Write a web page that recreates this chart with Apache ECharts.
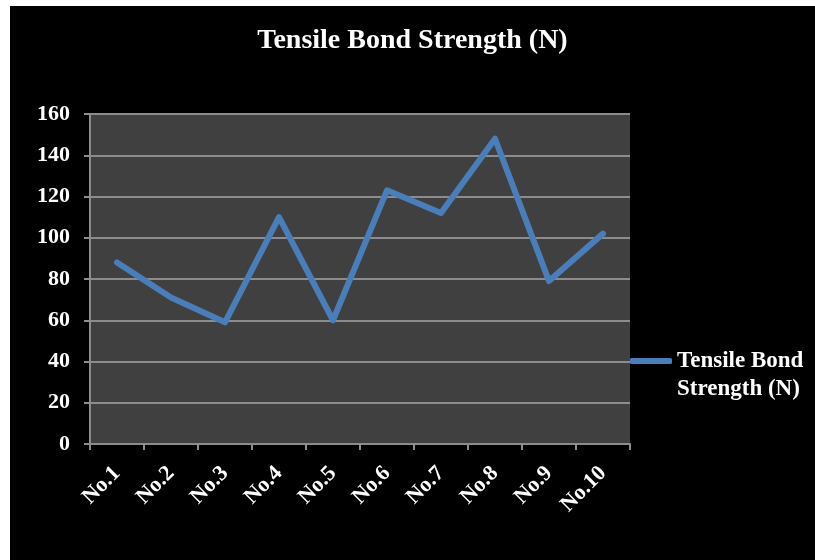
<!DOCTYPE html>
<html>
<head>
<meta charset="utf-8">
<script src="https://cdn.jsdelivr.net/npm/echarts@6/dist/echarts.min.js"></script>
<style>
  html, body { margin: 0; padding: 0; background: #ffffff; }
  #chart { position: absolute; left: 10px; top: 6px; width: 805px; height: 554px; background: #000000; }
</style>
</head>
<body>
<div id="chart"></div>
<script>
const categories = ['No.1', 'No.2', 'No.3', 'No.4', 'No.5', 'No.6', 'No.7', 'No.8', 'No.9', 'No.10'];
const strengthValues = [88, 71, 59, 110, 60, 123, 112, 148, 79, 102];
const seriesName = 'Tensile Bond Strength (N)';
const yTicks = { min: 0, max: 160, interval: 20 };

const serif = '"Liberation Serif", "Times New Roman", serif';
const chart = echarts.init(document.getElementById('chart'));

chart.setOption({
  backgroundColor: '#000000',
  animation: false,
  title: {
    text: seriesName,
    left: 'center',
    top: 16,
    textStyle: { color: '#ffffff', fontFamily: serif, fontWeight: 'bold', fontSize: 28 }
  },
  legend: {
    data: [seriesName],
    left: 620,
    top: 313,
    padding: 0,
    icon: 'roundRect',
    itemWidth: 42,
    itemHeight: 6,
    formatter: () => '\nTensile Bond\nStrength (N)',
    textStyle: { color: '#ffffff', fontFamily: serif, fontWeight: 'bold', fontSize: 23, lineHeight: 28 }
  },
  grid: {
    left: 80, top: 108, right: 185, bottom: 116,
    show: true, backgroundColor: '#404040', borderWidth: 0
  },
  xAxis: {
    type: 'category',
    data: categories,
    boundaryGap: true,
    axisLine: { lineStyle: { color: '#8c8c8c', width: 2 } },
    axisTick: { show: true, length: 6, lineStyle: { color: '#8c8c8c', width: 2 } },
    axisLabel: {
      rotate: 45, margin: 26, interval: 0,
      color: '#ffffff', fontFamily: serif, fontWeight: 'bold', fontSize: 22
    }
  },
  yAxis: {
    type: 'value',
    min: yTicks.min, max: yTicks.max, interval: yTicks.interval,
    axisLine: { show: true, lineStyle: { color: '#8c8c8c', width: 2 } },
    axisTick: { show: true, length: 6, lineStyle: { color: '#8c8c8c', width: 2 } },
    splitLine: { lineStyle: { color: '#8c8c8c', width: 2 } },
    axisLabel: { margin: 20, color: '#ffffff', fontFamily: serif, fontWeight: 'bold', fontSize: 22 }
  },
  series: [{
    name: seriesName,
    type: 'line',
    data: strengthValues,
    symbol: 'none',
    lineStyle: { color: '#4a7ebb', width: 6, join: 'round', cap: 'round' },
    itemStyle: { color: '#4a7ebb' }
  }]
});
</script>
</body>
</html>
